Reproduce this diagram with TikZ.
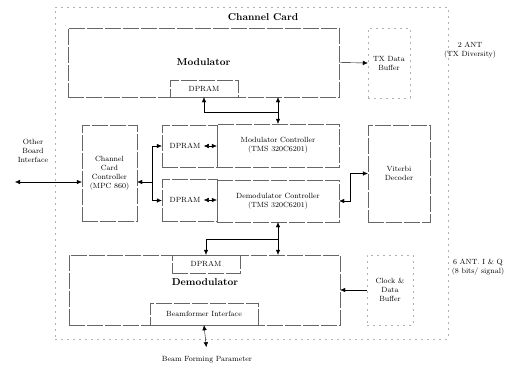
\documentclass[tikz,border=0pt]{standalone}
\usepackage{tikz}
\usetikzlibrary{arrows.meta,positioning,calc}

\begin{document}
\begin{tikzpicture}[>={Latex[length=5pt,width=4.5pt]},x=1pt,y=-1pt,font=\fontsize{7.5}{9}\selectfont,
   blk/.style={draw=black!60,dash pattern=on 16pt off 2pt,inner sep=1pt,align=center},
   fnt/.style={draw=black!30,dash pattern=on 2pt off 4pt,inner sep=1pt,align=center},
   hd/.style={font=\fontsize{10}{12}\selectfont\bfseries}]
  \useasboundingbox (0,0) rectangle (507,367);
  \node[fnt,minimum width=393,minimum height=332] (cc) at (251.5,173) {};
  \node[hd] (cct) at (263,17) {Channel Card};
  \node[blk,hd,minimum width=271,minimum height=69] (mod) at (203.5,62.5) {Modulator};
  \node[blk,minimum width=68,minimum height=17] (mdp) at (204,88.5) {DPRAM};
  \node[fnt,minimum width=42,minimum height=70] (txb) at (389,63) {TX Data\\Buffer};
  \node[align=center] (ant2) at (470,50) {2 ANT\\(TX Diversity)};
  \node[align=center] (obi) at (33,151) {Other\\Board\\Interface};
  \coordinate (ob) at (15,182);
  \node[blk,minimum width=55,minimum height=96] (ctrl) at (109.5,173) {Channel\\Card\\Controller\\(MPC 860)};
  \node[blk,minimum width=55,minimum height=42] (dpb1) at (189.5,146) {};
  \node[blk,minimum width=55,minimum height=42] (dpb2) at (189.5,200.5) {};
  \node (dp1) at (185,146) {DPRAM};
  \node (dp2) at (185,200) {DPRAM};
  \node[blk,minimum width=122,minimum height=43] (mctl) at (278,145.5) {Modulator Controller\\(TMS 320C6201)};
  \node[blk,minimum width=122,minimum height=42] (dctl) at (278,201) {Demodulator Controller\\(TMS 320C6201)};
  \node[blk,minimum width=62,minimum height=97] (vit) at (399,173.5) {Viterbi\\Decoder};
  \node[blk,minimum width=271,minimum height=70] (dem) at (204.5,290) {};
  \node[hd] (demt) at (205,282) {Demodulator};
  \node[blk,minimum width=68,minimum height=18] (ddp) at (206,264) {DPRAM};
  \node[blk,minimum width=108,minimum height=22] (bf) at (204,314) {Beamformer Interface};
  \node (bfp) at (207,360) {Beam Forming Parameter};
  \node[fnt,minimum width=46,minimum height=70] (ckb) at (390,290) {Clock \&\\Data\\Buffer};
  \node[align=center] (ant6) at (478,267) {6 ANT. I \& Q\\(8 bits/ signal)};
  \draw[<->] (ob) -- (ob -| ctrl.west);
  \draw[<-] ($(ctrl.east)+(0,9)$) -- ++(15,0) coordinate (j1);
  \draw[->] (j1) |- (dpb1.west);
  \draw[->] (j1) |- (dpb2.west);
  \draw[<->] (dp1.east) -- (dp1.east -| mctl.west);
  \draw[<->] (dp2.east) -- (dp2.east -| dctl.west);
  \draw[<->] (mctl.north |- mod.south) -- (mctl.north);
  \draw[->] ($(mctl.north)+(0,-12)$) -| (mdp.south);
  \draw[<->] (dctl.south) -- (dctl.south |- dem.north);
  \draw[->] ($(dctl.south)+(0,17)$) -| (ddp.north);
  \draw[<->] (dctl.east) -- ++(11,0) |- (vit.west);
  \draw[->] (mod.east) -- (txb.west);
  \draw[->] (ckb.west) -- (dem.east);
  \draw[<->,shorten >=6pt] (bf.south) -- (bfp.north);
\end{tikzpicture}
\end{document}
